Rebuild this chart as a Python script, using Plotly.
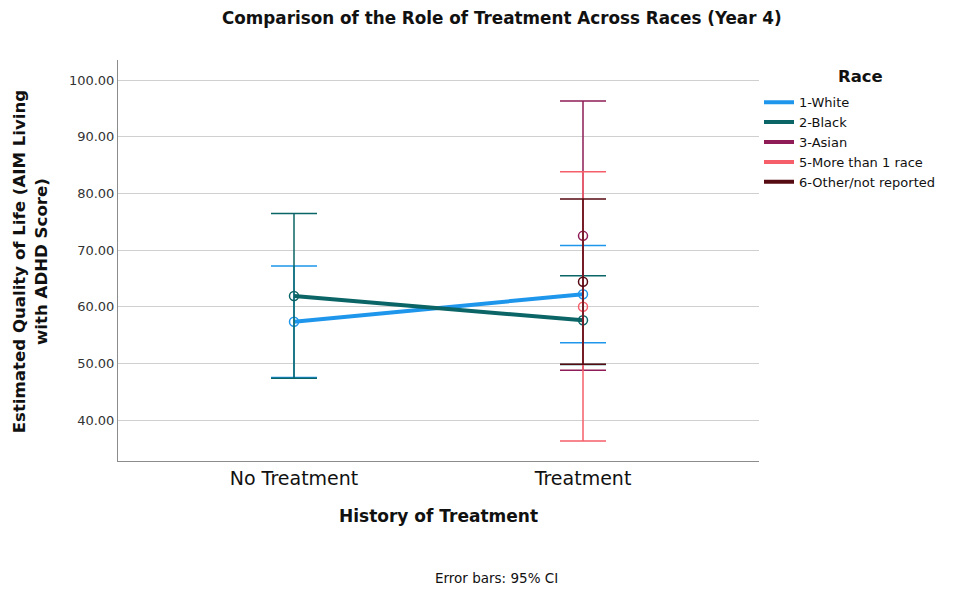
import plotly.graph_objects as go

categories = ["No Treatment", "Treatment"]
races = ["1-White", "2-Black", "3-Asian", "5-More than 1 race", "6-Other/not reported"]
colors = ["#1e96ec", "#0b6566", "#8f1c57", "#f65f69", "#560a12"]

means = {
    "1-White": [57.35, 62.2],
    "2-Black": [61.9, 57.6],
    "3-Asian": [None, 72.5],
    "5-More than 1 race": [None, 60.0],
    "6-Other/not reported": [None, 64.4],
}
upper = {
    "1-White": [67.2, 70.8],
    "2-Black": [76.45, 65.45],
    "3-Asian": [None, 96.3],
    "5-More than 1 race": [None, 83.8],
    "6-Other/not reported": [None, 79.0],
}
lower = {
    "1-White": [47.5, 53.65],
    "2-Black": [47.35, 49.8],
    "3-Asian": [None, 48.8],
    "5-More than 1 race": [None, 36.3],
    "6-Other/not reported": [None, 49.85],
}

FONT = "DejaVu Sans"
fig = go.Figure()

for race, col in zip(races, colors):
    m = means[race]
    up = [None if v is None else u - v for u, v in zip(upper[race], m)]
    dn = [None if v is None else v - l for l, v in zip(lower[race], m)]
    has_line = all(v is not None for v in m)
    fig.add_trace(go.Scatter(
        x=categories, y=m, name=race, showlegend=False,
        mode="lines+markers" if has_line else "markers",
        line=dict(color=col, width=4),
        marker=dict(symbol="circle-open", size=9, color=col, line=dict(width=1.5, color=col)),
        error_y=dict(type="data", symmetric=False, array=up, arrayminus=dn,
                     color=col, thickness=1.5, width=23),
    ))

for race, col in zip(races, colors):
    fig.add_trace(go.Scatter(x=[None], y=[None], name=race, mode="lines",
                             line=dict(color=col, width=4), showlegend=True))

fig.update_layout(
    width=956, height=584,
    margin=dict(l=110, r=205, t=52, b=131),
    plot_bgcolor="white", paper_bgcolor="white",
    font=dict(family=FONT, color="#111111"),
    xaxis=dict(type="category", range=[-0.609, 1.609], showgrid=False,
               showline=True, linecolor="#8c8c8c", linewidth=1, ticks="",
               tickfont=dict(size=19, color="#111111"), zeroline=False),
    yaxis=dict(range=[32.77, 103.53], tickvals=[40, 50, 60, 70, 80, 90, 100],
               tickformat=".2f", showgrid=True, gridcolor="#d0d0d0", gridwidth=1,
               showline=True, linecolor="#8c8c8c", linewidth=1, ticks="",
               tickfont=dict(size=13, color="#333333"), zeroline=False),
    legend=dict(x=1.0, xanchor="left", y=0.932, yanchor="top",
                font=dict(size=13, color="#111111"), tracegroupgap=0,
                bgcolor="rgba(0,0,0,0)"),
    annotations=[
        dict(text="<b>Comparison of the Role of Treatment Across Races (Year 4)</b>",
             xref="paper", yref="paper", x=0.599, y=1.105, showarrow=False,
             xanchor="center", yanchor="middle", font=dict(size=16.8, color="#111111")),
        dict(text="<b>Race</b>", xref="paper", yref="paper", x=1.1576, y=0.960,
             showarrow=False, xanchor="center", yanchor="middle",
             font=dict(size=16.5, color="#111111")),
        dict(text="<b>History of Treatment</b>", xref="paper", yref="paper",
             x=0.5, y=-0.1377, showarrow=False, xanchor="center", yanchor="middle",
             font=dict(size=17, color="#111111")),
        dict(text="<b>Estimated Quality of Life (AIM Living<br>with ADHD Score)</b>",
             xref="paper", yref="paper", x=-0.137, y=0.496, showarrow=False,
             textangle=-90, xanchor="center", yanchor="middle",
             font=dict(size=16.6, color="#111111")),
        dict(text="Error bars: 95% CI", xref="paper", yref="paper",
             x=0.591, y=-0.292, showarrow=False, xanchor="center", yanchor="middle",
             font=dict(size=13.5, color="#111111")),
    ],
)

fig.write_html("out.html")
